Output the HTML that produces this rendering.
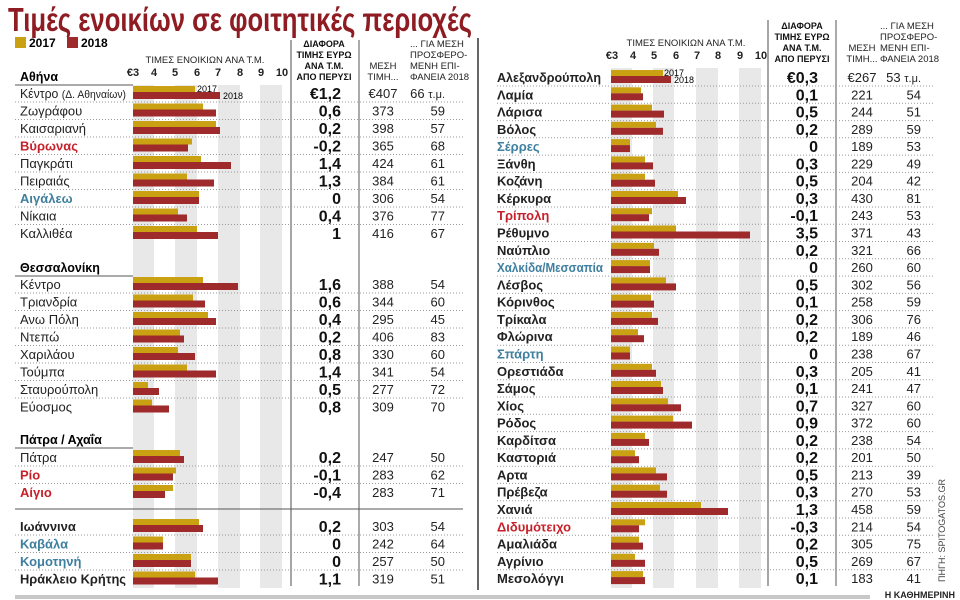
<!DOCTYPE html>
<html><head><meta charset="utf-8"><style>
html,body{margin:0;padding:0;background:#fff;}
svg{display:block;font-family:"Liberation Sans Narrow","Liberation Sans","DejaVu Sans Condensed",sans-serif;}
.n{font-size:13px;fill:#222;}
.b{font-weight:bold;}
.r{fill:#c8202a;}
.bl{fill:#3f7f9f;}
.d{font-size:16px;font-weight:bold;text-anchor:end;fill:#111;}
.p{font-size:13px;text-anchor:middle;fill:#222;}
.a{font-size:13px;text-anchor:end;fill:#222;}
.h{font-size:9.5px;fill:#222;}
.hb{font-size:9px;font-weight:bold;fill:#111;text-anchor:middle;}
.t{font-size:11px;font-weight:bold;text-anchor:middle;fill:#222;}
.g{fill:#c9a112;}
.m{fill:#9e2a2b;}
.dot{stroke:#999;stroke-width:1;stroke-dasharray:1,2;}
</style></head><body>
<svg width="960" height="600" viewBox="0 0 960 600" xmlns="http://www.w3.org/2000/svg">
<text x="8" y="31" font-size="33" font-weight="bold" fill="#8e1c22" textLength="464" lengthAdjust="spacingAndGlyphs">Τιμές ενοικίων σε φοιτητικές περιοχές</text>

<g fill="#e8e8e8">
<rect x="133" y="85" width="21" height="503"/><rect x="175" y="85" width="22" height="503"/><rect x="218" y="85" width="22" height="503"/><rect x="260" y="85" width="22" height="503"/>
<rect x="611" y="68" width="21" height="520"/><rect x="653" y="68" width="21" height="520"/><rect x="696" y="68" width="22" height="520"/><rect x="739" y="68" width="22" height="520"/>
</g>
<line x1="291" y1="40" x2="291" y2="586" stroke="#888" stroke-width="1.5"/>
<line x1="359" y1="40" x2="359" y2="586" stroke="#555" stroke-width="1"/>
<line x1="478" y1="38" x2="478" y2="590" stroke="#333" stroke-width="1.5"/>
<line x1="768" y1="20" x2="768" y2="586" stroke="#888" stroke-width="1.5"/>
<line x1="836" y1="20" x2="836" y2="586" stroke="#555" stroke-width="1"/>
<rect x="15" y="595" width="855" height="4" fill="#c8c8c8"/>
<text x="955" y="598" font-size="9" font-weight="bold" text-anchor="end" fill="#222">Η ΚΑΘΗΜΕΡΙΝΗ</text>
<text transform="translate(945,582) rotate(-90)" font-size="9" fill="#444">ΠΗΓΗ: SPITOGATOS.GR</text>

<rect x="15" y="37" width="11" height="11" class="g"/><text x="29" y="47" font-size="12" font-weight="bold">2017</text>
<rect x="67" y="37" width="11" height="11" class="m"/><text x="81" y="47" font-size="12" font-weight="bold">2018</text>
<text x="205" y="63" class="h" text-anchor="middle">ΤΙΜΕΣ ΕΝΟΙΚΙΩΝ ΑΝΑ Τ.Μ.</text>
<g class="t"><text x="133" y="76">€3</text><text x="154" y="76">4</text><text x="175" y="76">5</text><text x="197" y="76">6</text><text x="218" y="76">7</text><text x="240" y="76">8</text><text x="261" y="76">9</text><text x="282" y="76">10</text></g>
<text x="20" y="81" font-size="12.5" font-weight="bold">Αθήνα</text>
<line x1="15" y1="85" x2="133" y2="85" stroke="#555"/>
<text x="324" y="47" class="hb">ΔΙΑΦΟΡΑ</text><text x="324" y="58" class="hb">ΤΙΜΗΣ ΕΥΡΩ</text><text x="324" y="69" class="hb">ΑΝΑ Τ.Μ.</text><text x="324" y="80" class="hb">ΑΠΟ ΠΕΡΥΣΙ</text>
<text x="383" y="69" class="h" text-anchor="middle">ΜΕΣΗ</text><text x="383" y="80" class="h" text-anchor="middle">ΤΙΜΗ...</text>
<text x="410" y="47" class="h">... ΓΙΑ ΜΕΣΗ</text><text x="410" y="58" class="h">ΠΡΟΣΦΕΡΟ-</text><text x="410" y="69" class="h">ΜΕΝΗ ΕΠΙ-</text><text x="410" y="80" class="h">ΦΑΝΕΙΑ 2018</text>

<text x="686" y="46" class="h" text-anchor="middle">ΤΙΜΕΣ ΕΝΟΙΚΙΩΝ ΑΝΑ Τ.Μ.</text>
<g class="t"><text x="612" y="59">€3</text><text x="633" y="59">4</text><text x="654" y="59">5</text><text x="676" y="59">6</text><text x="697" y="59">7</text><text x="718" y="59">8</text><text x="740" y="59">9</text><text x="761" y="59">10</text></g>
<text x="802" y="29" class="hb">ΔΙΑΦΟΡΑ</text><text x="802" y="40" class="hb">ΤΙΜΗΣ ΕΥΡΩ</text><text x="802" y="51" class="hb">ΑΝΑ Τ.Μ.</text><text x="802" y="62" class="hb">ΑΠΟ ΠΕΡΥΣΙ</text>
<text x="862" y="51" class="h" text-anchor="middle">ΜΕΣΗ</text><text x="862" y="62" class="h" text-anchor="middle">ΤΙΜΗ...</text>
<text x="880" y="29" class="h">... ΓΙΑ ΜΕΣΗ</text><text x="880" y="40" class="h">ΠΡΟΣΦΕΡΟ-</text><text x="880" y="51" class="h">ΜΕΝΗ ΕΠΙ-</text><text x="880" y="62" class="h">ΦΑΝΕΙΑ 2018</text>

<!-- LEFT ROWS -->
<g transform="translate(0,93)"><rect x="133" y="-7" width="62" height="6" class="g"/><rect x="133" y="-1" width="87" height="7" class="m"/><text x="197" y="-1" font-size="9">2017</text><text x="223" y="6" font-size="9">2018</text><text x="20" y="5" class="n" textLength="106" lengthAdjust="spacingAndGlyphs">Κέντρο <tspan font-size="11">(Δ. Αθηναίων)</tspan></text><text x="341" y="6" class="d" font-size="17">€1,2</text><text x="383" y="5" class="p">€407</text><text x="445" y="5" class="a">66 <tspan font-size="11">τ.μ.</tspan></text><line x1="15" y1="9" x2="463" y2="9" class="dot"/></g>
<g transform="translate(0,110.5)"><rect x="133" y="-7" width="70" height="6" class="g"/><rect x="133" y="-1" width="83" height="7" class="m"/><text x="20" y="5" class="n">Ζωγράφου</text><text x="341" y="6" class="d">0,6</text><text x="383" y="5" class="p">373</text><text x="445" y="5" class="a">59</text><line x1="15" y1="9" x2="463" y2="9" class="dot"/></g>
<g transform="translate(0,128)"><rect x="133" y="-7" width="83" height="6" class="g"/><rect x="133" y="-1" width="87" height="7" class="m"/><text x="20" y="5" class="n">Καισαριανή</text><text x="341" y="6" class="d">0,2</text><text x="383" y="5" class="p">398</text><text x="445" y="5" class="a">57</text><line x1="15" y1="9" x2="463" y2="9" class="dot"/></g>
<g transform="translate(0,145.5)"><rect x="133" y="-7" width="59" height="6" class="g"/><rect x="133" y="-1" width="55" height="7" class="m"/><text x="20" y="5" class="n b r">Βύρωνας</text><text x="341" y="6" class="d r">-0,2</text><text x="383" y="5" class="p">365</text><text x="445" y="5" class="a">68</text><line x1="15" y1="9" x2="463" y2="9" class="dot"/></g>
<g transform="translate(0,163)"><rect x="133" y="-7" width="68" height="6" class="g"/><rect x="133" y="-1" width="98" height="7" class="m"/><text x="20" y="5" class="n">Παγκράτι</text><text x="341" y="6" class="d">1,4</text><text x="383" y="5" class="p">424</text><text x="445" y="5" class="a">61</text><line x1="15" y1="9" x2="463" y2="9" class="dot"/></g>
<g transform="translate(0,180.5)"><rect x="133" y="-7" width="54" height="6" class="g"/><rect x="133" y="-1" width="81" height="7" class="m"/><text x="20" y="5" class="n">Πειραιάς</text><text x="341" y="6" class="d">1,3</text><text x="383" y="5" class="p">384</text><text x="445" y="5" class="a">61</text><line x1="15" y1="9" x2="463" y2="9" class="dot"/></g>
<g transform="translate(0,198)"><rect x="133" y="-7" width="66" height="6" class="g"/><rect x="133" y="-1" width="66" height="7" class="m"/><text x="20" y="5" class="n b bl">Αιγάλεω</text><text x="341" y="6" class="d bl">0</text><text x="383" y="5" class="p">306</text><text x="445" y="5" class="a">54</text><line x1="15" y1="9" x2="463" y2="9" class="dot"/></g>
<g transform="translate(0,215.5)"><rect x="133" y="-7" width="45" height="6" class="g"/><rect x="133" y="-1" width="54" height="7" class="m"/><text x="20" y="5" class="n">Νίκαια</text><text x="341" y="6" class="d">0,4</text><text x="383" y="5" class="p">376</text><text x="445" y="5" class="a">77</text><line x1="15" y1="9" x2="463" y2="9" class="dot"/></g>
<g transform="translate(0,233)"><rect x="133" y="-7" width="64" height="6" class="g"/><rect x="133" y="-1" width="85" height="7" class="m"/><text x="20" y="5" class="n">Καλλιθέα</text><text x="341" y="6" class="d">1</text><text x="383" y="5" class="p">416</text><text x="445" y="5" class="a">67</text></g>

<text x="20" y="272" font-size="12.5" font-weight="bold">Θεσσαλονίκη</text>
<line x1="15" y1="276" x2="133" y2="276" stroke="#555"/>
<g transform="translate(0,284)"><rect x="133" y="-7" width="70" height="6" class="g"/><rect x="133" y="-1" width="105" height="7" class="m"/><text x="20" y="5" class="n">Κέντρο</text><text x="341" y="6" class="d">1,6</text><text x="383" y="5" class="p">388</text><text x="445" y="5" class="a">54</text><line x1="15" y1="9" x2="463" y2="9" class="dot"/></g>
<g transform="translate(0,301.5)"><rect x="133" y="-7" width="60" height="6" class="g"/><rect x="133" y="-1" width="72" height="7" class="m"/><text x="20" y="5" class="n">Τριανδρία</text><text x="341" y="6" class="d">0,6</text><text x="383" y="5" class="p">344</text><text x="445" y="5" class="a">60</text><line x1="15" y1="9" x2="463" y2="9" class="dot"/></g>
<g transform="translate(0,319)"><rect x="133" y="-7" width="75" height="6" class="g"/><rect x="133" y="-1" width="83" height="7" class="m"/><text x="20" y="5" class="n">Ανω Πόλη</text><text x="341" y="6" class="d">0,4</text><text x="383" y="5" class="p">295</text><text x="445" y="5" class="a">45</text><line x1="15" y1="9" x2="463" y2="9" class="dot"/></g>
<g transform="translate(0,336.5)"><rect x="133" y="-7" width="47" height="6" class="g"/><rect x="133" y="-1" width="51" height="7" class="m"/><text x="20" y="5" class="n">Ντεπώ</text><text x="341" y="6" class="d">0,2</text><text x="383" y="5" class="p">406</text><text x="445" y="5" class="a">83</text><line x1="15" y1="9" x2="463" y2="9" class="dot"/></g>
<g transform="translate(0,354)"><rect x="133" y="-7" width="45" height="6" class="g"/><rect x="133" y="-1" width="62" height="7" class="m"/><text x="20" y="5" class="n">Χαριλάου</text><text x="341" y="6" class="d">0,8</text><text x="383" y="5" class="p">330</text><text x="445" y="5" class="a">60</text><line x1="15" y1="9" x2="463" y2="9" class="dot"/></g>
<g transform="translate(0,371.5)"><rect x="133" y="-7" width="54" height="6" class="g"/><rect x="133" y="-1" width="83" height="7" class="m"/><text x="20" y="5" class="n">Τούμπα</text><text x="341" y="6" class="d">1,4</text><text x="383" y="5" class="p">341</text><text x="445" y="5" class="a">54</text><line x1="15" y1="9" x2="463" y2="9" class="dot"/></g>
<g transform="translate(0,389)"><rect x="133" y="-7" width="15" height="6" class="g"/><rect x="133" y="-1" width="26" height="7" class="m"/><text x="20" y="5" class="n">Σταυρούπολη</text><text x="341" y="6" class="d">0,5</text><text x="383" y="5" class="p">277</text><text x="445" y="5" class="a">72</text><line x1="15" y1="9" x2="463" y2="9" class="dot"/></g>
<g transform="translate(0,406.5)"><rect x="133" y="-7" width="19" height="6" class="g"/><rect x="133" y="-1" width="36" height="7" class="m"/><text x="20" y="5" class="n">Εύοσμος</text><text x="341" y="6" class="d">0,8</text><text x="383" y="5" class="p">309</text><text x="445" y="5" class="a">70</text></g>

<text x="20" y="444" font-size="12.5" font-weight="bold">Πάτρα / Αχαΐα</text>
<line x1="15" y1="448" x2="133" y2="448" stroke="#555"/>
<g transform="translate(0,457)"><rect x="133" y="-7" width="47" height="6" class="g"/><rect x="133" y="-1" width="51" height="7" class="m"/><text x="20" y="5" class="n">Πάτρα</text><text x="341" y="6" class="d">0,2</text><text x="383" y="5" class="p">247</text><text x="445" y="5" class="a">50</text><line x1="15" y1="9" x2="463" y2="9" class="dot"/></g>
<g transform="translate(0,474.5)"><rect x="133" y="-7" width="43" height="6" class="g"/><rect x="133" y="-1" width="40" height="7" class="m"/><text x="20" y="5" class="n b r">Ρίο</text><text x="341" y="6" class="d r">-0,1</text><text x="383" y="5" class="p">283</text><text x="445" y="5" class="a">62</text><line x1="15" y1="9" x2="463" y2="9" class="dot"/></g>
<g transform="translate(0,492)"><rect x="133" y="-7" width="40" height="6" class="g"/><rect x="133" y="-1" width="32" height="7" class="m"/><text x="20" y="5" class="n b r">Αίγιο</text><text x="341" y="6" class="d r">-0,4</text><text x="383" y="5" class="p">283</text><text x="445" y="5" class="a">71</text></g>
<line x1="15" y1="509" x2="463" y2="509" stroke="#555"/>

<g transform="translate(0,526)"><rect x="133" y="-7" width="66" height="6" class="g"/><rect x="133" y="-1" width="70" height="7" class="m"/><text x="20" y="5" class="n b">Ιωάννινα</text><text x="341" y="6" class="d">0,2</text><text x="383" y="5" class="p">303</text><text x="445" y="5" class="a">54</text><line x1="15" y1="9" x2="463" y2="9" class="dot"/></g>
<g transform="translate(0,543.5)"><rect x="133" y="-7" width="30" height="6" class="g"/><rect x="133" y="-1" width="30" height="7" class="m"/><text x="20" y="5" class="n b bl">Καβάλα</text><text x="341" y="6" class="d bl">0</text><text x="383" y="5" class="p">242</text><text x="445" y="5" class="a">64</text><line x1="15" y1="9" x2="463" y2="9" class="dot"/></g>
<g transform="translate(0,561)"><rect x="133" y="-7" width="58" height="6" class="g"/><rect x="133" y="-1" width="58" height="7" class="m"/><text x="20" y="5" class="n b bl">Κομοτηνή</text><text x="341" y="6" class="d bl">0</text><text x="383" y="5" class="p">257</text><text x="445" y="5" class="a">50</text><line x1="15" y1="9" x2="463" y2="9" class="dot"/></g>
<g transform="translate(0,578.5)"><rect x="133" y="-7" width="62" height="6" class="g"/><rect x="133" y="-1" width="85" height="7" class="m"/><text x="20" y="5" class="n b" textLength="106" lengthAdjust="spacingAndGlyphs">Ηράκλειο Κρήτης</text><text x="341" y="6" class="d">1,1</text><text x="383" y="5" class="p">319</text><text x="445" y="5" class="a">51</text></g>

<!-- RIGHT ROWS -->
<g>
<g transform="translate(0,77)"><rect x="611" y="-7" width="52" height="6" class="g"/><rect x="611" y="-1" width="60" height="7" class="m"/><text x="664" y="-1" font-size="9">2017</text><text x="674" y="6" font-size="9">2018</text><text x="497" y="5" class="n b" textLength="104" lengthAdjust="spacingAndGlyphs">Αλεξανδρούπολη</text><text x="818" y="6" class="d" font-size="17">€0,3</text><text x="862" y="5" class="p">€267</text><text x="921" y="5" class="a">53 <tspan font-size="11">τ.μ.</tspan></text><line x1="497" y1="9" x2="935" y2="9" class="dot"/></g>
<g transform="translate(0,94.3)"><rect x="611" y="-7" width="30" height="6" class="g"/><rect x="611" y="-1" width="32" height="7" class="m"/><text x="497" y="5" class="n b">Λαμία</text><text x="818" y="6" class="d">0,1</text><text x="862" y="5" class="p">221</text><text x="921" y="5" class="a">54</text><line x1="497" y1="9" x2="935" y2="9" class="dot"/></g>
<g transform="translate(0,111.6)"><rect x="611" y="-7" width="41" height="6" class="g"/><rect x="611" y="-1" width="53" height="7" class="m"/><text x="497" y="5" class="n b">Λάρισα</text><text x="818" y="6" class="d">0,5</text><text x="862" y="5" class="p">244</text><text x="921" y="5" class="a">51</text><line x1="497" y1="9" x2="935" y2="9" class="dot"/></g>
<g transform="translate(0,128.8)"><rect x="611" y="-7" width="45" height="6" class="g"/><rect x="611" y="-1" width="52" height="7" class="m"/><text x="497" y="5" class="n b">Βόλος</text><text x="818" y="6" class="d">0,2</text><text x="862" y="5" class="p">289</text><text x="921" y="5" class="a">59</text><line x1="497" y1="9" x2="935" y2="9" class="dot"/></g>
<g transform="translate(0,146.1)"><rect x="611" y="-7" width="19" height="6" class="g"/><rect x="611" y="-1" width="19" height="7" class="m"/><text x="497" y="5" class="n b bl">Σέρρες</text><text x="818" y="6" class="d bl">0</text><text x="862" y="5" class="p">189</text><text x="921" y="5" class="a">53</text><line x1="497" y1="9" x2="935" y2="9" class="dot"/></g>
<g transform="translate(0,163.4)"><rect x="611" y="-7" width="34" height="6" class="g"/><rect x="611" y="-1" width="42" height="7" class="m"/><text x="497" y="5" class="n b">Ξάνθη</text><text x="818" y="6" class="d">0,3</text><text x="862" y="5" class="p">229</text><text x="921" y="5" class="a">49</text><line x1="497" y1="9" x2="935" y2="9" class="dot"/></g>
<g transform="translate(0,180.7)"><rect x="611" y="-7" width="34" height="6" class="g"/><rect x="611" y="-1" width="44" height="7" class="m"/><text x="497" y="5" class="n b">Κοζάνη</text><text x="818" y="6" class="d">0,5</text><text x="862" y="5" class="p">204</text><text x="921" y="5" class="a">42</text><line x1="497" y1="9" x2="935" y2="9" class="dot"/></g>
<g transform="translate(0,198)"><rect x="611" y="-7" width="67" height="6" class="g"/><rect x="611" y="-1" width="75" height="7" class="m"/><text x="497" y="5" class="n b">Κέρκυρα</text><text x="818" y="6" class="d">0,3</text><text x="862" y="5" class="p">430</text><text x="921" y="5" class="a">81</text><line x1="497" y1="9" x2="935" y2="9" class="dot"/></g>
<g transform="translate(0,215.2)"><rect x="611" y="-7" width="41" height="6" class="g"/><rect x="611" y="-1" width="38" height="7" class="m"/><text x="497" y="5" class="n b r">Τρίπολη</text><text x="818" y="6" class="d r">-0,1</text><text x="862" y="5" class="p">243</text><text x="921" y="5" class="a">53</text><line x1="497" y1="9" x2="935" y2="9" class="dot"/></g>
<g transform="translate(0,232.5)"><rect x="611" y="-7" width="65" height="6" class="g"/><rect x="611" y="-1" width="139" height="7" class="m"/><text x="497" y="5" class="n b">Ρέθυμνο</text><text x="818" y="6" class="d">3,5</text><text x="862" y="5" class="p">371</text><text x="921" y="5" class="a">43</text><line x1="497" y1="9" x2="935" y2="9" class="dot"/></g>
<g transform="translate(0,249.8)"><rect x="611" y="-7" width="43" height="6" class="g"/><rect x="611" y="-1" width="48" height="7" class="m"/><text x="497" y="5" class="n b">Ναύπλιο</text><text x="818" y="6" class="d">0,2</text><text x="862" y="5" class="p">321</text><text x="921" y="5" class="a">66</text><line x1="497" y1="9" x2="935" y2="9" class="dot"/></g>
<g transform="translate(0,267.1)"><rect x="611" y="-7" width="39" height="6" class="g"/><rect x="611" y="-1" width="39" height="7" class="m"/><text x="497" y="5" class="n b bl" textLength="106" lengthAdjust="spacingAndGlyphs">Χαλκίδα/Μεσσαπία</text><text x="818" y="6" class="d bl">0</text><text x="862" y="5" class="p">260</text><text x="921" y="5" class="a">60</text><line x1="497" y1="9" x2="935" y2="9" class="dot"/></g>
<g transform="translate(0,284.4)"><rect x="611" y="-7" width="55" height="6" class="g"/><rect x="611" y="-1" width="65" height="7" class="m"/><text x="497" y="5" class="n b">Λέσβος</text><text x="818" y="6" class="d">0,5</text><text x="862" y="5" class="p">302</text><text x="921" y="5" class="a">56</text><line x1="497" y1="9" x2="935" y2="9" class="dot"/></g>
<g transform="translate(0,301.6)"><rect x="611" y="-7" width="40" height="6" class="g"/><rect x="611" y="-1" width="43" height="7" class="m"/><text x="497" y="5" class="n b">Κόρινθος</text><text x="818" y="6" class="d">0,1</text><text x="862" y="5" class="p">258</text><text x="921" y="5" class="a">59</text><line x1="497" y1="9" x2="935" y2="9" class="dot"/></g>
<g transform="translate(0,318.9)"><rect x="611" y="-7" width="41" height="6" class="g"/><rect x="611" y="-1" width="47" height="7" class="m"/><text x="497" y="5" class="n b">Τρίκαλα</text><text x="818" y="6" class="d">0,2</text><text x="862" y="5" class="p">306</text><text x="921" y="5" class="a">76</text><line x1="497" y1="9" x2="935" y2="9" class="dot"/></g>
<g transform="translate(0,336.2)"><rect x="611" y="-7" width="27" height="6" class="g"/><rect x="611" y="-1" width="33" height="7" class="m"/><text x="497" y="5" class="n b">Φλώρινα</text><text x="818" y="6" class="d">0,2</text><text x="862" y="5" class="p">189</text><text x="921" y="5" class="a">46</text><line x1="497" y1="9" x2="935" y2="9" class="dot"/></g>
<g transform="translate(0,353.5)"><rect x="611" y="-7" width="19" height="6" class="g"/><rect x="611" y="-1" width="19" height="7" class="m"/><text x="497" y="5" class="n b bl">Σπάρτη</text><text x="818" y="6" class="d bl">0</text><text x="862" y="5" class="p">238</text><text x="921" y="5" class="a">67</text><line x1="497" y1="9" x2="935" y2="9" class="dot"/></g>
<g transform="translate(0,370.8)"><rect x="611" y="-7" width="41" height="6" class="g"/><rect x="611" y="-1" width="45" height="7" class="m"/><text x="497" y="5" class="n b">Ορεστιάδα</text><text x="818" y="6" class="d">0,3</text><text x="862" y="5" class="p">205</text><text x="921" y="5" class="a">41</text><line x1="497" y1="9" x2="935" y2="9" class="dot"/></g>
<g transform="translate(0,388)"><rect x="611" y="-7" width="50" height="6" class="g"/><rect x="611" y="-1" width="52" height="7" class="m"/><text x="497" y="5" class="n b">Σάμος</text><text x="818" y="6" class="d">0,1</text><text x="862" y="5" class="p">241</text><text x="921" y="5" class="a">47</text><line x1="497" y1="9" x2="935" y2="9" class="dot"/></g>
<g transform="translate(0,405.3)"><rect x="611" y="-7" width="57" height="6" class="g"/><rect x="611" y="-1" width="70" height="7" class="m"/><text x="497" y="5" class="n b">Χίος</text><text x="818" y="6" class="d">0,7</text><text x="862" y="5" class="p">327</text><text x="921" y="5" class="a">60</text><line x1="497" y1="9" x2="935" y2="9" class="dot"/></g>
<g transform="translate(0,422.6)"><rect x="611" y="-7" width="62" height="6" class="g"/><rect x="611" y="-1" width="81" height="7" class="m"/><text x="497" y="5" class="n b">Ρόδος</text><text x="818" y="6" class="d">0,9</text><text x="862" y="5" class="p">372</text><text x="921" y="5" class="a">60</text><line x1="497" y1="9" x2="935" y2="9" class="dot"/></g>
<g transform="translate(0,439.9)"><rect x="611" y="-7" width="34" height="6" class="g"/><rect x="611" y="-1" width="38" height="7" class="m"/><text x="497" y="5" class="n b">Καρδίτσα</text><text x="818" y="6" class="d">0,2</text><text x="862" y="5" class="p">238</text><text x="921" y="5" class="a">54</text><line x1="497" y1="9" x2="935" y2="9" class="dot"/></g>
<g transform="translate(0,457.2)"><rect x="611" y="-7" width="24" height="6" class="g"/><rect x="611" y="-1" width="28" height="7" class="m"/><text x="497" y="5" class="n b">Καστοριά</text><text x="818" y="6" class="d">0,2</text><text x="862" y="5" class="p">201</text><text x="921" y="5" class="a">50</text><line x1="497" y1="9" x2="935" y2="9" class="dot"/></g>
<g transform="translate(0,474.4)"><rect x="611" y="-7" width="45" height="6" class="g"/><rect x="611" y="-1" width="56" height="7" class="m"/><text x="497" y="5" class="n b">Αρτα</text><text x="818" y="6" class="d">0,5</text><text x="862" y="5" class="p">213</text><text x="921" y="5" class="a">39</text><line x1="497" y1="9" x2="935" y2="9" class="dot"/></g>
<g transform="translate(0,491.7)"><rect x="611" y="-7" width="49" height="6" class="g"/><rect x="611" y="-1" width="56" height="7" class="m"/><text x="497" y="5" class="n b">Πρέβεζα</text><text x="818" y="6" class="d">0,3</text><text x="862" y="5" class="p">270</text><text x="921" y="5" class="a">53</text><line x1="497" y1="9" x2="935" y2="9" class="dot"/></g>
<g transform="translate(0,509)"><rect x="611" y="-7" width="90" height="6" class="g"/><rect x="611" y="-1" width="117" height="7" class="m"/><text x="497" y="5" class="n b">Χανιά</text><text x="818" y="6" class="d">1,3</text><text x="862" y="5" class="p">458</text><text x="921" y="5" class="a">59</text><line x1="497" y1="9" x2="935" y2="9" class="dot"/></g>
<g transform="translate(0,526.3)"><rect x="611" y="-7" width="34" height="6" class="g"/><rect x="611" y="-1" width="28" height="7" class="m"/><text x="497" y="5" class="n b r" textLength="74" lengthAdjust="spacingAndGlyphs">Διδυμότειχο</text><text x="818" y="6" class="d r">-0,3</text><text x="862" y="5" class="p">214</text><text x="921" y="5" class="a">54</text><line x1="497" y1="9" x2="935" y2="9" class="dot"/></g>
<g transform="translate(0,543.6)"><rect x="611" y="-7" width="28" height="6" class="g"/><rect x="611" y="-1" width="32" height="7" class="m"/><text x="497" y="5" class="n b">Αμαλιάδα</text><text x="818" y="6" class="d">0,2</text><text x="862" y="5" class="p">305</text><text x="921" y="5" class="a">75</text><line x1="497" y1="9" x2="935" y2="9" class="dot"/></g>
<g transform="translate(0,560.8)"><rect x="611" y="-7" width="24" height="6" class="g"/><rect x="611" y="-1" width="34" height="7" class="m"/><text x="497" y="5" class="n b">Αγρίνιο</text><text x="818" y="6" class="d">0,5</text><text x="862" y="5" class="p">269</text><text x="921" y="5" class="a">67</text><line x1="497" y1="9" x2="935" y2="9" class="dot"/></g>
<g transform="translate(0,578.1)"><rect x="611" y="-7" width="32" height="6" class="g"/><rect x="611" y="-1" width="34" height="7" class="m"/><text x="497" y="5" class="n b">Μεσολόγγι</text><text x="818" y="6" class="d">0,1</text><text x="862" y="5" class="p">183</text><text x="921" y="5" class="a">41</text></g>
</g>
</svg>
</body></html>
